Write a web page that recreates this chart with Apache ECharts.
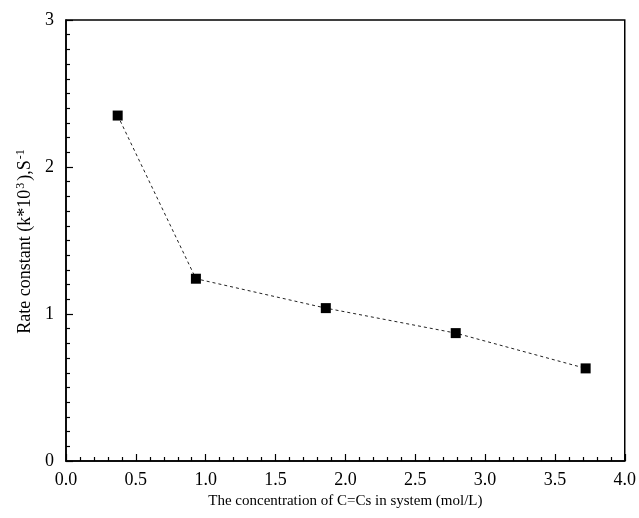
<!DOCTYPE html>
<html>
<head>
<meta charset="utf-8">
<script src="https://cdn.jsdelivr.net/npm/echarts@6/dist/echarts.min.js"></script>
<style>html,body{margin:0;padding:0;background:#fff}#c{width:639px;height:518px}</style>
</head>
<body>
<div id="c"></div>
<script>
var concentration = [0.37, 0.93, 1.86, 2.79, 3.72];
var rateConstant = [2.35, 1.24, 1.04, 0.87, 0.63];
var xTicks = [0.0, 0.5, 1.0, 1.5, 2.0, 2.5, 3.0, 3.5, 4.0];
var yTicks = [0, 1, 2, 3];

var font = '"Liberation Serif", "Times New Roman", serif';
var pts = concentration.map(function (x, i) { return [x, rateConstant[i]]; });

var chart = echarts.init(document.getElementById('c'), null, {renderer: 'canvas'});
chart.setOption({
  animation: false,
  backgroundColor: '#fff',
  grid: {left: 66, top: 20, right: 14, bottom: 57, show: true, borderColor: '#000', borderWidth: 1.5, backgroundColor: 'transparent'},
  xAxis: {
    type: 'value', min: 0, max: 4, interval: 0.5,
    name: 'The concentration of C=Cs in system (mol/L)',
    nameLocation: 'middle', nameGap: 28,
    nameTextStyle: {fontFamily: font, fontSize: 15, color: '#000'},
    axisLine: {show: true, lineStyle: {color: '#000', width: 1.5}},
    axisTick: {show: true, inside: true, length: 7, lineStyle: {color: '#000', width: 1.2}},
    minorTick: {show: true, splitNumber: 5, length: 4, lineStyle: {color: '#000', width: 1.2}},
    splitLine: {show: false},
    axisLabel: {fontFamily: font, fontSize: 18, color: '#000', margin: 10,
      formatter: function (v) { return v.toFixed(1); }}
  },
  yAxis: {
    type: 'value', min: 0, max: 3, interval: 1,
    name: 'Rate constant (k*10{sup|3}),S{sup|-1}',
    nameLocation: 'middle', nameGap: 24, nameRotate: 90,
    nameTextStyle: {fontFamily: font, fontSize: 18, color: '#000',
      rich: {sup: {fontFamily: font, fontSize: 12, color: '#000', verticalAlign: 'top', padding: [0, 2, 8, 1]}}},
    axisLine: {show: true, lineStyle: {color: '#000', width: 1.5}},
    axisTick: {show: true, inside: true, length: 7, lineStyle: {color: '#000', width: 1.2}},
    minorTick: {show: true, splitNumber: 10, length: 4, lineStyle: {color: '#000', width: 1.2}},
    splitLine: {show: false},
    axisLabel: {fontFamily: font, fontSize: 18, color: '#000', margin: 12}
  },
  series: [{
    type: 'line',
    data: pts,
    symbol: 'rect', symbolSize: 10,
    itemStyle: {color: '#000'},
    lineStyle: {color: '#222', width: 1, type: [3, 3]}
  }]
});
</script>
</body>
</html>
